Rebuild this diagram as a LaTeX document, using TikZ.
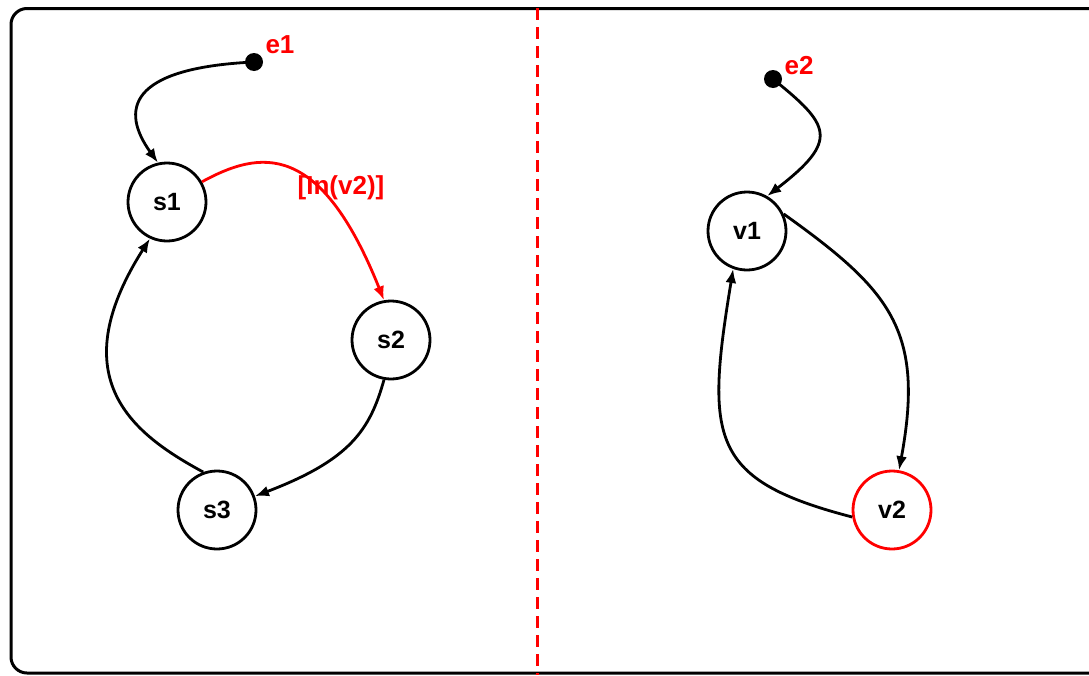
\documentclass[tikz,border=0pt]{standalone}
\usepackage{fontspec}
\setmainfont{Liberation Sans}
\usetikzlibrary{arrows.meta}
\begin{document}
\begin{tikzpicture}[x=1pt,y=-1pt,
  state/.style={circle,draw,line width=2.8pt,minimum size=78pt,inner sep=0pt,font=\fontsize{25}{29}\selectfont\bfseries},
  dot/.style={circle,fill,inner sep=0pt,minimum size=18pt},
  lbl/.style={text=red,font=\fontsize{26}{30}\selectfont\bfseries,inner sep=0pt},
  edge/.style={line width=2.8pt,-{Latex[length=14pt,width=11pt]}}]
\useasboundingbox (0,0) rectangle (1089,675);
\draw[line width=3pt,rounded corners=16pt] (11,8.5) rectangle (1120,673);
\coordinate (dtop) at (537,8);
\coordinate (dbot) at (537,675);
\draw[red,line width=3pt,dash pattern=on 12pt off 7pt] (dtop) -- (dbot);
\node[state] (s1) at (167,202) {s1};
\node[state] (s2) at (391,340) {s2};
\node[state] (s3) at (217,510) {s3};
\node[state] (v1) at (747,231) {v1};
\node[state,draw=red] (v2) at (892,510) {v2};
\node[dot] (e1) at (254,62) {};
\node[dot] (e2) at (773,79) {};
\node[lbl] (le1) at (280,45) {e1};
\node[lbl] (le2) at (799,66) {e2};
\draw[edge] (e1.center) .. controls (128,68) and (120,110) .. (s1.103);
\draw[edge,red] (s1.30) .. controls (260,150) and (320,140) .. (s2.100);
\node[lbl] (g) at (341,188) {[In(v2)]};
\draw[edge] (s2.260) .. controls (370,430) and (350,460) .. (s3.20);
\draw[edge] (s3.110) .. controls (135,435) and (60,380) .. (s1.245);
\draw[edge] (e2.center) .. controls (830,125) and (840,140) .. (v1.60);
\draw[edge] (v1.25) .. controls (890,290) and (925,330) .. (v2.80);
\draw[edge] (v2.190) .. controls (710,480) and (705,440) .. (v1.250);
\end{tikzpicture}
\end{document}
